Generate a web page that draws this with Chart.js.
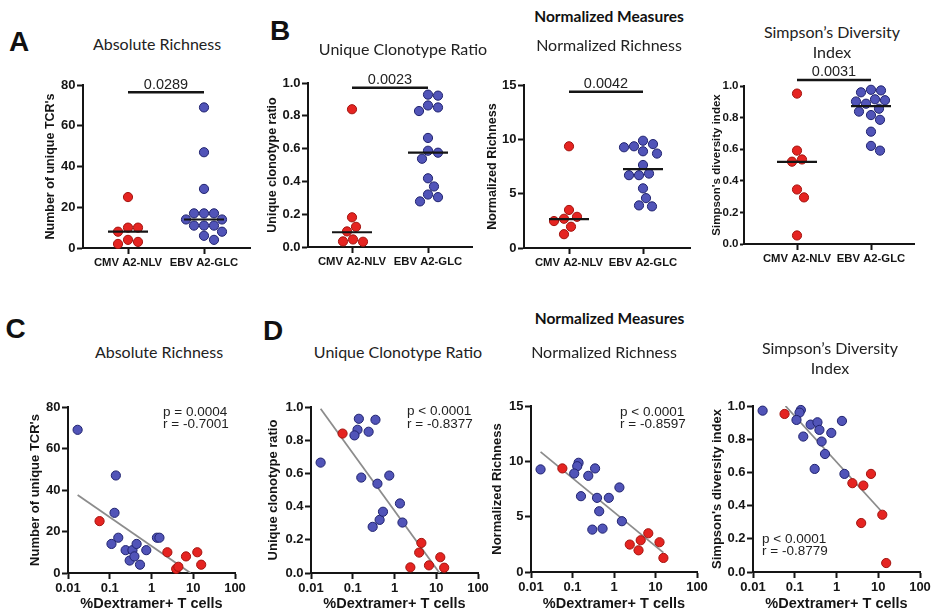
<!DOCTYPE html>
<html>
<head>
<meta charset="utf-8">
<script src="https://cdn.jsdelivr.net/npm/chart.js@4.4.1/dist/chart.umd.min.js"></script>
<style>
  body { margin: 0; background: #fff; width: 938px; height: 613px; overflow: hidden; position: relative; }
  canvas { position: absolute; }
  .t { position: absolute; white-space: nowrap; color: #111; }
</style>
</head>
<body>
<script>
// groups and x tick labels
const groups = ['CMV A2-NLV', 'EBV A2-GLC'];
const dexTicks = [0.01, 0.1, 1, 10, 100];
const dexLabels = ['0.01', '0.1', '1', '10', '100'];

// %Dextramer+ T cells per donor (same donors in every panel)
const dexCMV = [0.057, 2.4, 3.9, 4.4, 6.7, 12.5, 15.5];
const dexEBV = [0.017, 0.14, 0.13, 0.16, 0.11, 0.24, 0.30, 0.35, 0.39, 0.44, 0.53, 0.75, 1.35, 1.55];

// absolute richness (number of unique TCR's)
const richCMV = [25, 10, 2, 3, 8, 10, 4];
const richEBV = [69, 47, 29, 17, 14, 11, 6, 11, 8, 14, 4, 11, 17, 17];

// unique clonotype ratio
const ratioCMV = [0.84, 0.034, 0.123, 0.181, 0.046, 0.095, 0.032];
const ratioEBV = [0.665, 0.929, 0.863, 0.575, 0.829, 0.851, 0.278, 0.923, 0.538, 0.32, 0.369, 0.587, 0.419, 0.304];

// normalized richness
const normCMV = [9.36, 2.48, 1.96, 2.87, 3.5, 2.69, 1.27];
const normEBV = [9.27, 9.87, 9.56, 6.85, 8.9, 8.69, 3.83, 9.36, 6.7, 5.49, 3.92, 6.7, 7.64, 4.59];

// simpson's diversity index
const simpCMV = [0.952, 0.535, 0.295, 0.521, 0.591, 0.345, 0.054];
const simpEBV = [0.972, 0.976, 0.96, 0.816, 0.916, 0.888, 0.621, 0.902, 0.856, 0.786, 0.711, 0.838, 0.91, 0.591];

// medians, p values and fit lines as printed
const medRich = [8, 14];
const medRatio = [0.09, 0.575];
const medNorm = [2.65, 7.25];
const medSimp = [0.52, 0.872];
const pTop = ['0.0289', '0.0023', '0.0042', '0.0031'];
const sigLevel = [76.4, 0.971, 14.38, 1.038];
const fitRich = [{x: 0.017, y: 37.6}, {x: 8.6, y: 0}];
const fitRatio = [{x: 0.017, y: 0.99}, {x: 12, y: 0}];
const fitNorm = [{x: 0.017, y: 10.85}, {x: 15.5, y: 1.75}];
const fitSimp = [{x: 0.06, y: 1.0}, {x: 12.5, y: 0.36}];
const corrText = [
  ['p = 0.0004', 'r = -0.7001'],
  ['p < 0.0001', 'r = -0.8377'],
  ['p < 0.0001', 'r = -0.8597'],
  ['p < 0.0001', 'r = -0.8779']
];

const RED = '#e52421', RED_EDGE = '#a3140f';
const BLUE = '#5154b8', BLUE_EDGE = '#20236f';
const INK = '#151515';

Chart.defaults.font.family = '"Liberation Sans", Arial, sans-serif';
Chart.defaults.color = INK;

// medians + significance bar
const annot = {
  id: 'annot',
  afterDatasetsDraw(chart, args, opts) {
    const { ctx } = chart;
    const x = chart.scales.x, y = chart.scales.y;
    ctx.save();
    ctx.strokeStyle = INK;
    if (opts.med) {
      ctx.lineWidth = 2.2;
      opts.med.forEach((m, i) => {
        const cx = x.getPixelForValue(i + 1), cy = y.getPixelForValue(m);
        ctx.beginPath();
        ctx.moveTo(cx - 20, cy);
        ctx.lineTo(cx + 20, cy);
        ctx.stroke();
      });
    }
    if (opts.p) {
      const by = y.getPixelForValue(opts.sig);
      const x1 = x.getPixelForValue(1), x2 = x.getPixelForValue(2);
      ctx.lineWidth = 2.5;
      ctx.beginPath();
      ctx.moveTo(x1, by);
      ctx.lineTo(x2, by);
      ctx.stroke();
      ctx.fillStyle = '#222';
      ctx.font = '14.5px "Liberation Sans"';
      ctx.textAlign = 'center';
      ctx.textBaseline = 'alphabetic';
      ctx.fillText(opts.p, (x1 + x2) / 2, by - 3.5);
    }
    ctx.restore();
  }
};

// simple beeswarm in pixel space, returns x in data units
function swarm(vals, center, pxX, pxY) {
  const placed = [];
  const out = new Array(vals.length);
  const order = vals.map((v, i) => i).sort((a, b) => vals[b] - vals[a]);
  for (const i of order) {
    const py = vals[i] * pxY;
    let off = 0;
    for (let k = 0; k < 200; k++) {
      const o = (k % 2 ? 1 : -1) * Math.ceil(k / 2);
      if (placed.every(p => Math.hypot(p.x - o, p.y - py) >= 10)) { off = o; break; }
    }
    placed.push({ x: off, y: py });
    out[i] = { x: center + off / pxX, y: vals[i] };
  }
  return out;
}

function addCanvas(left, top, w, h) {
  const c = document.createElement('canvas');
  c.width = w; c.height = h;
  c.style.left = left + 'px';
  c.style.top = top + 'px';
  document.body.appendChild(c);
  return c;
}

function axisStyle(tick) {
  return {
    border: { display: true, color: INK, width: 2 },
    grid: { drawOnChartArea: false, drawTicks: true, tickLength: tick, tickWidth: 2, color: INK }
  };
}

function pointSet(data, fill, edge) {
  return {
    data, backgroundColor: fill, borderColor: edge, borderWidth: 1,
    pointRadius: 4.6, clip: false
  };
}

// top row: group comparisons
const topPanels = [
  { plot: [83, 85, 250, 248], cats: [128, 204], ttl: 50, max: 80, step: 20, dec: 0, fs: 13, tl: 6,
    title: "Number of unique TCR's", cmv: richCMV, ebv: richEBV, med: medRich },
  { plot: [308, 83, 472, 247], cats: [352, 428], ttl: 272, max: 1, step: 0.2, dec: 1, fs: 13, tl: 6,
    title: 'Unique clonotype ratio', cmv: ratioCMV, ebv: ratioEBV, med: medRatio },
  { plot: [524, 85, 690, 248], cats: [569, 643], ttl: 492, max: 15, step: 5, dec: 0, fs: 13, tl: 6,
    title: 'Normalized Richness', cmv: normCMV, ebv: normEBV, med: medNorm },
  { plot: [744, 86, 914, 244], cats: [797, 871], ttl: 716.5, max: 1, step: 0.2, dec: 1, fs: 11.5, tl: 4,
    title: "Simpson's diversity index", cmv: simpCMV, ebv: simpEBV, med: medSimp }
];

topPanels.forEach((p, idx) => {
  const [L, T, R, B] = p.plot;
  const padTop = 28, padRight = 6, xH = 28;
  const cl = Math.round(p.ttl - 6.6);
  const yW = L - cl;
  const ct = T - padTop;
  const cv = addCanvas(cl, ct, R + padRight - cl, B + xH - ct);
  const unit = p.cats[1] - p.cats[0];
  const xmin = 1 - (p.cats[0] - L) / unit;
  const xmax = 2 + (R - p.cats[1]) / unit;
  const pxY = (B - T) / p.max;
  new Chart(cv, {
    type: 'scatter',
    data: {
      datasets: [
        pointSet(swarm(p.cmv, 1, unit, pxY), RED, RED_EDGE),
        pointSet(swarm(p.ebv, 2, unit, pxY), BLUE, BLUE_EDGE)
      ]
    },
    options: {
      responsive: false, animation: false, events: [],
      layout: { padding: { left: 0, top: padTop, right: padRight, bottom: 0 } },
      plugins: {
        legend: { display: false }, tooltip: { enabled: false },
        annot: { med: p.med, p: pTop[idx], sig: sigLevel[idx] }
      },
      scales: {
        x: {
          type: 'linear', min: xmin, max: xmax, ...axisStyle(6),
          afterBuildTicks: s => { s.ticks = [{ value: 1 }, { value: 2 }]; },
          ticks: { callback: (v, i) => groups[i], font: { size: 11.3, weight: 'bold' }, padding: 2, maxRotation: 0 },
          afterFit: s => { s.height = xH; }
        },
        y: {
          min: 0, max: p.max, ...axisStyle(p.tl),
          ticks: { stepSize: p.step, callback: v => v.toFixed(p.dec), font: { size: p.fs, weight: 'bold' }, padding: 1.5 },
          title: { display: true, text: p.title, font: { size: p.fs === 13 ? 12.5 : 11.5, weight: 'bold' }, padding: 0 },
          afterFit: s => { s.width = yW; }
        }
      }
    },
    plugins: [annot]
  });
});

// bottom row: correlations with %Dextramer+
const botPanels = [
  { plot: [68, 407, 235, 573], ttl: 35.7, max: 80, step: 20, dec: 0,
    title: "Number of unique TCR's", cmv: richCMV, ebv: richEBV, fit: fitRich },
  { plot: [311, 407, 478, 573], ttl: 273.5, max: 1, step: 0.2, dec: 1,
    title: 'Unique clonotype ratio', cmv: ratioCMV, ebv: ratioEBV, fit: fitRatio },
  { plot: [531, 406, 697, 572], ttl: 497.5, max: 15, step: 5, dec: 0,
    title: 'Normalized Richness', cmv: normCMV, ebv: normEBV, fit: fitNorm },
  { plot: [753, 406, 920, 572], ttl: 717.5, max: 1, step: 0.2, dec: 1,
    title: "Simpson's diversity index", cmv: simpCMV, ebv: simpEBV, fit: fitSimp }
];

botPanels.forEach(p => {
  const [L, T, R, B] = p.plot;
  const padTop = 12, padRight = 14;
  const cl = Math.round(p.ttl - 7.5);
  const yW = L - cl;
  const ct = T - padTop;
  const xH = 613 - B;
  const cv = addCanvas(cl, ct, R + padRight - cl, 613 - ct);
  new Chart(cv, {
    type: 'scatter',
    data: {
      datasets: [
        pointSet(dexCMV.map((x, i) => ({ x, y: p.cmv[i] })), RED, RED_EDGE),
        pointSet(dexEBV.map((x, i) => ({ x, y: p.ebv[i] })), BLUE, BLUE_EDGE),
        { type: 'line', data: p.fit, borderColor: '#8c8c8c', borderWidth: 1.8, pointRadius: 0, fill: false }
      ]
    },
    options: {
      responsive: false, animation: false, events: [],
      layout: { padding: { left: 0, top: padTop, right: padRight, bottom: 0 } },
      plugins: { legend: { display: false }, tooltip: { enabled: false } },
      scales: {
        x: {
          type: 'logarithmic', min: 0.01, max: 100, ...axisStyle(6),
          afterBuildTicks: s => { s.ticks = dexTicks.map(v => ({ value: v })); },
          ticks: { callback: (v, i) => dexLabels[i], font: { size: 13, weight: 'bold' }, padding: 2, maxRotation: 0, autoSkip: false },
          title: { display: true, text: '%Dextramer+ T cells', font: { size: 14.5, weight: 'bold' }, padding: 0 },
          afterFit: s => { s.height = xH; }
        },
        y: {
          min: 0, max: p.max, ...axisStyle(6),
          ticks: { stepSize: p.step, callback: v => v.toFixed(p.dec), font: { size: 13, weight: 'bold' }, padding: 1.5 },
          title: { display: true, text: p.title, font: { size: 13, weight: 'bold' }, padding: 0 },
          afterFit: s => { s.width = yW; }
        }
      }
    }
  });
});

// headings and labels
const styles = {
  letter: 'font: bold 28px "Liberation Sans", Arial, sans-serif;',
  head: 'font: bold 15.5px Lato, sans-serif;',
  title: 'font: 16px Lato, sans-serif; color:#222;',
  stat: 'font: 13.5px "Liberation Sans", Arial, sans-serif; color:#222;'
};
function addText(text, x, cy, style, align) {
  const d = document.createElement('div');
  d.className = 't';
  d.textContent = text;
  const lh = 20;
  d.style.cssText = styles[style] + `line-height:${lh}px; left:${x}px; top:${cy - lh / 2}px;` +
    (align === 'center' ? 'transform: translateX(-50%);' : '');
  document.body.appendChild(d);
}

addText('A', 9, 41.5, 'letter');
addText('B', 270, 31.3, 'letter');
addText('C', 5.5, 328.7, 'letter');
addText('D', 263, 331, 'letter');
addText('Normalized Measures', 609, 16, 'head', 'center');
addText('Normalized Measures', 609.5, 317.7, 'head', 'center');
addText('Absolute Richness', 157, 44, 'title', 'center');
addText('Unique Clonotype Ratio', 403, 49, 'title', 'center');
addText('Normalized Richness', 609, 44.5, 'title', 'center');
addText('Simpson\u2019s Diversity', 832, 32, 'title', 'center');
addText('Index', 832, 51.5, 'title', 'center');
addText('Absolute Richness', 159, 351.5, 'title', 'center');
addText('Unique Clonotype Ratio', 398, 352, 'title', 'center');
addText('Normalized Richness', 604, 352, 'title', 'center');
addText('Simpson\u2019s Diversity', 830, 348, 'title', 'center');
addText('Index', 830, 367.7, 'title', 'center');

const statPos = [[163, 411.5], [407, 411], [620, 411.5], [762, 538.5]];
corrText.forEach((lines, i) => {
  addText(lines[0], statPos[i][0], statPos[i][1], 'stat');
  addText(lines[1], statPos[i][0], statPos[i][1] + 12.5, 'stat');
});
</script>
</body>
</html>
